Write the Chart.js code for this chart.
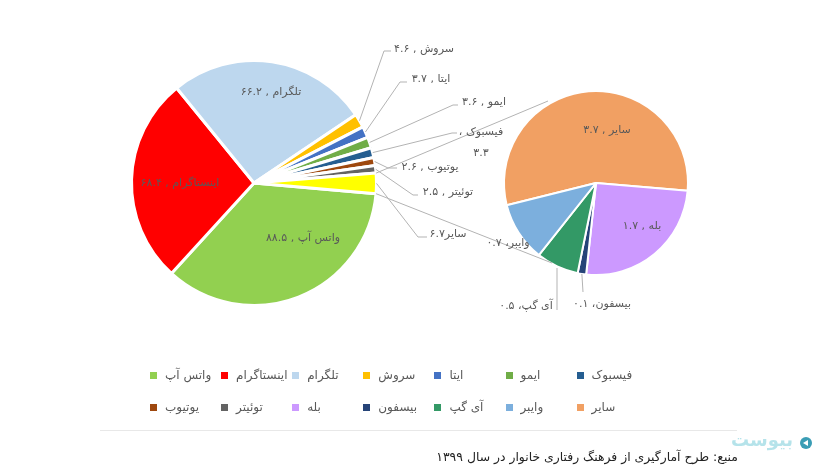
<!DOCTYPE html>
<html lang="fa">
<head>
<meta charset="utf-8">
<title>chart</title>
<script src="https://cdn.jsdelivr.net/npm/chart.js@4"></script>
<style>
  body { margin: 0; background: #fff; font-family: "DejaVu Sans", sans-serif; }
  #wrap { position: relative; width: 832px; height: 470px; overflow: hidden; }
  canvas { position: absolute; left: 0; top: 0; }
  .key { position: absolute; width: 7px; height: 7px; }
  .name { position: absolute; direction: rtl; white-space: nowrap; font-size: 12px; color: #595959; transform: translateY(-50%); }
  #rule { position: absolute; left: 100px; top: 430px; width: 637px; height: 1px; background: #e8e8e8; }
  #source { position: absolute; right: 94px; top: 449px; direction: rtl; font-size: 12.4px; color: #222; white-space: nowrap; }
  #logo { position: absolute; left: 729px; top: 429px; width: 66px; text-align: center; direction: rtl; font-size: 18px; font-weight: bold; color: #b5e3ea; }
  #dot { position: absolute; left: 800px; top: 437px; width: 12px; height: 12px; border-radius: 50%; background: #3a9db5; }
  #dot::after { content: ""; position: absolute; left: 3px; top: 3px; border: 3px solid transparent; border-right: 5px solid #fff; border-left: 0; }
</style>
</head>
<body>
<div id="wrap">
  <canvas id="mainPie" width="832" height="470"></canvas>
  <canvas id="subPie" width="832" height="470"></canvas>
  <div id="legend"></div>
  <div id="rule"></div>
  <div id="logo">بیوست</div>
  <div id="dot"></div>
  <div id="source">منبع: طرح آمارگیری از فرهنگ رفتاری خانوار در سال ۱۳۹۹</div>
</div>
<script>
// main pie
const mainNames = ['واتس آپ', 'اینستاگرام', 'تلگرام', 'سروش', 'ایتا', 'ایمو', 'فیسبوک', 'یوتیوب', 'توئیتر', 'سایر'];
const mainValues = [88.5, 68.4, 66.2, 4.6, 3.7, 3.6, 3.3, 2.6, 2.5, 6.7];
const mainColors = ['#92D050', '#FF0000', '#BDD7EE', '#FFC000', '#4472C4', '#70AD47', '#255E91', '#9E480E', '#636363', '#FFFF00'];

// second pie, the breakdown of "other"
const subNames = ['سایر', 'بله', 'بیسفون', 'آی گپ', 'وایبر'];
const subValues = [3.7, 1.7, 0.1, 0.5, 0.7];
const subColors = ['#F1A063', '#CC99FF', '#264478', '#339966', '#7CAFDD'];

// legend, left to right
const legendRow1 = ['واتس آپ', 'اینستاگرام', 'تلگرام', 'سروش', 'ایتا', 'ایمو', 'فیسبوک'];
const legendRow2 = ['یوتیوب', 'توئیتر', 'بله', 'بیسفون', 'آی گپ', 'وایبر', 'سایر'];

const labelFont = '11px "DejaVu Sans", sans-serif';
const labelColor = '#595959';
const lineColor = '#b3b3b3';

function fa(v) {
  return String(v).replace(/\d/g, d => '۰۱۲۳۴۵۶۷۸۹'[d]);
}

// label placement by slice index: x,y = centre of text, elbow = where the leader bends
const mainLabelPos = {
  0: { x: 303, y: 238, sep: ' , ' },
  1: { x: 180, y: 183, sep: ' , ' },
  2: { x: 271, y: 92, sep: ' , ' },
  3: { x: 424, y: 49, sep: ' , ', elbow: [384, 51], end: [391, 51] },
  4: { x: 431, y: 79, sep: ' , ', elbow: [400, 82], end: [407, 82] },
  5: { x: 484, y: 102, sep: ' , ', elbow: [453, 105], end: [458, 105] },
  6: { x: 481, y: 132, twoLines: true, elbow: [452, 133], end: [457, 133] },
  7: { x: 430, y: 167, sep: ' , ', elbow: [388, 168], end: [397, 168] },
  8: { x: 448, y: 192, sep: ' , ', elbow: [413, 195], end: [418, 195] },
  9: { x: 448, y: 234, sep: '', elbow: [418, 237], end: [427, 237] }
};
const subLabelPos = {
  0: { x: 607, y: 130, sep: ' , ' },
  1: { x: 642, y: 226, sep: ' , ' },
  2: { x: 602, y: 304, sep: '، ', elbow: [583, 292], end: [583, 292] },
  3: { x: 526, y: 306, sep: '، ', elbow: [557, 310], end: [557, 310], startAt: [557, 268] },
  4: { x: 508, y: 243, sep: '، ' }
};

function drawLabels(ctx, chart, names, values, placement) {
  const arcs = chart.getDatasetMeta(0).data;
  ctx.save();
  ctx.font = labelFont;
  ctx.fillStyle = labelColor;
  ctx.textAlign = 'center';
  ctx.textBaseline = 'middle';
  ctx.direction = 'rtl';
  arcs.forEach((arc, i) => {
    const p = placement[i];
    if (p.elbow) {
      const a = arc.getProps(['x', 'y', 'startAngle', 'endAngle', 'outerRadius'], true);
      const mid = (a.startAngle + a.endAngle) / 2;
      const start = p.startAt || [a.x + Math.cos(mid) * a.outerRadius, a.y + Math.sin(mid) * a.outerRadius];
      ctx.strokeStyle = lineColor;
      ctx.lineWidth = 1;
      ctx.beginPath();
      ctx.moveTo(start[0], start[1]);
      ctx.lineTo(p.elbow[0], p.elbow[1]);
      ctx.lineTo(p.end[0], p.end[1]);
      ctx.stroke();
    }
    if (p.twoLines) {
      ctx.fillText(names[i] + ' ،', p.x, p.y);
      ctx.fillText(fa(values[i]), p.x, p.y + 21);
    } else {
      ctx.fillText(names[i] + p.sep + fa(values[i]), p.x, p.y);
    }
  });
  ctx.restore();
}

const mainChart = new Chart(document.getElementById('mainPie'), {
  type: 'pie',
  data: {
    labels: mainNames,
    datasets: [{ data: mainValues, backgroundColor: mainColors, borderColor: '#fff', borderWidth: 3 }]
  },
  options: {
    responsive: false,
    animation: false,
    rotation: 95,
    layout: { padding: { left: 130, right: 454, top: 59, bottom: 163 } },
    plugins: { legend: { display: false }, tooltip: { enabled: false } }
  }
});

// drawn on the top canvas so the lines and labels cross over both pies
const overlay = {
  id: 'overlay',
  afterDraw(chart) {
    const ctx = chart.ctx;
    const other = mainChart.getDatasetMeta(0).data[mainValues.length - 1]
      .getProps(['x', 'y', 'startAngle', 'endAngle', 'outerRadius'], true);
    const seriesLines = [
      [other.startAngle, 548, 101],
      [other.endAngle, 552, 263]
    ];
    ctx.save();
    ctx.strokeStyle = lineColor;
    ctx.lineWidth = 1;
    seriesLines.forEach(l => {
      ctx.beginPath();
      ctx.moveTo(other.x + Math.cos(l[0]) * other.outerRadius, other.y + Math.sin(l[0]) * other.outerRadius);
      ctx.lineTo(l[1], l[2]);
      ctx.stroke();
    });
    ctx.restore();
    drawLabels(ctx, mainChart, mainNames, mainValues, mainLabelPos);
    drawLabels(ctx, chart, subNames, subValues, subLabelPos);
  }
};

new Chart(document.getElementById('subPie'), {
  type: 'pie',
  data: {
    labels: subNames,
    datasets: [{ data: subValues, backgroundColor: subColors, borderColor: '#fff', borderWidth: 2 }]
  },
  options: {
    responsive: false,
    animation: false,
    rotation: 256,
    layout: { padding: { left: 503, right: 143, top: 90, bottom: 194 } },
    plugins: { legend: { display: false }, tooltip: { enabled: false } }
  },
  plugins: [overlay]
});

// legend
const allNames = mainNames.concat(subNames);
const allColors = mainColors.concat(subColors);
const legendBox = document.getElementById('legend');
function legendEntry(name, colorIndex, x, y) {
  const key = document.createElement('div');
  key.className = 'key';
  key.style.cssText = 'left:' + (x - 3) + 'px;top:' + (y - 3) + 'px;background:' + allColors[colorIndex];
  legendBox.appendChild(key);
  const text = document.createElement('div');
  text.className = 'name';
  text.textContent = name;
  text.style.left = (x + 12) + 'px';
  text.style.top = y + 'px';
  legendBox.appendChild(text);
}
legendRow1.forEach((n, i) => legendEntry(n, allNames.indexOf(n), 153 + i * 71.1, 375));
legendRow2.forEach((n, i) => {
  // "سایر" in the legend is the second pie's orange slice
  const idx = n === 'سایر' ? mainNames.length : allNames.indexOf(n);
  legendEntry(n, idx, 153 + i * 71.1, 407);
});
</script>
</body>
</html>
